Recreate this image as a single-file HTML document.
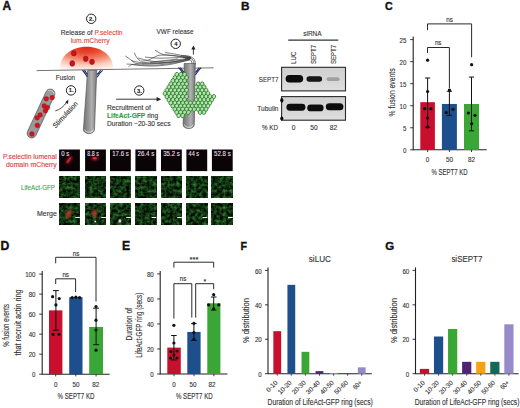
<!DOCTYPE html>
<html><head><meta charset="utf-8"><style>
html,body{margin:0;padding:0;background:#fff;}
svg{display:block;}
text{font-family:"Liberation Sans", sans-serif;}
</style></head><body>
<svg width="520" height="408" viewBox="0 0 520 408">
<text x="2.60" y="9.80" font-size="11.94" font-weight="bold" fill="#111" stroke="#111" stroke-width="0.35">A</text>
<text x="240.90" y="10.00" font-size="11.81" font-weight="bold" fill="#111" stroke="#111" stroke-width="0.35">B</text>
<text x="385.10" y="10.20" font-size="10.69" font-weight="bold" fill="#111" stroke="#111" stroke-width="0.35">C</text>
<text x="0.60" y="250.10" font-size="12.22" font-weight="bold" fill="#111" stroke="#111" stroke-width="0.35">D</text>
<text x="122.10" y="250.10" font-size="12.22" font-weight="bold" fill="#111" stroke="#111" stroke-width="0.35">E</text>
<text x="240.40" y="249.90" font-size="10.56" font-weight="bold" fill="#111" stroke="#111" stroke-width="0.35">F</text>
<text x="385.30" y="249.90" font-size="11.53" font-weight="bold" fill="#111" stroke="#111" stroke-width="0.35">G</text>
<line x1="413.20" y1="150.20" x2="413.20" y2="36.60" stroke="#222" stroke-width="1.1"/>
<line x1="410.20" y1="149.80" x2="413.20" y2="149.80" stroke="#222" stroke-width="0.9"/>
<text x="406.40" y="152.91" font-size="6.6" fill="#333" stroke="#333" stroke-width="0.12" text-anchor="end" textLength="3.43" lengthAdjust="spacingAndGlyphs">0</text>
<line x1="410.20" y1="127.76" x2="413.20" y2="127.76" stroke="#222" stroke-width="0.9"/>
<text x="406.40" y="130.87" font-size="6.6" fill="#333" stroke="#333" stroke-width="0.12" text-anchor="end" textLength="3.43" lengthAdjust="spacingAndGlyphs">5</text>
<line x1="410.20" y1="105.72" x2="413.20" y2="105.72" stroke="#222" stroke-width="0.9"/>
<text x="406.40" y="108.83" font-size="6.6" fill="#333" stroke="#333" stroke-width="0.12" text-anchor="end" textLength="6.86" lengthAdjust="spacingAndGlyphs">10</text>
<line x1="410.20" y1="83.68" x2="413.20" y2="83.68" stroke="#222" stroke-width="0.9"/>
<text x="406.40" y="86.79" font-size="6.6" fill="#333" stroke="#333" stroke-width="0.12" text-anchor="end" textLength="6.86" lengthAdjust="spacingAndGlyphs">15</text>
<line x1="410.20" y1="61.64" x2="413.20" y2="61.64" stroke="#222" stroke-width="0.9"/>
<text x="406.40" y="64.75" font-size="6.6" fill="#333" stroke="#333" stroke-width="0.12" text-anchor="end" textLength="6.86" lengthAdjust="spacingAndGlyphs">20</text>
<line x1="410.20" y1="39.60" x2="413.20" y2="39.60" stroke="#222" stroke-width="0.9"/>
<text x="406.40" y="42.71" font-size="6.6" fill="#333" stroke="#333" stroke-width="0.12" text-anchor="end" textLength="6.86" lengthAdjust="spacingAndGlyphs">25</text>
<line x1="413.20" y1="149.80" x2="486.70" y2="149.80" stroke="#222" stroke-width="1.1"/>
<rect x="420.30" y="102.19" width="14.60" height="47.61" fill="#c8102e"/>
<line x1="427.60" y1="149.80" x2="427.60" y2="152.00" stroke="#222" stroke-width="0.9"/>
<rect x="441.90" y="103.96" width="15.00" height="45.84" fill="#1d4f8c"/>
<line x1="449.40" y1="149.80" x2="449.40" y2="152.00" stroke="#222" stroke-width="0.9"/>
<rect x="464.00" y="103.96" width="15.00" height="45.84" fill="#3aa636"/>
<line x1="471.50" y1="149.80" x2="471.50" y2="152.00" stroke="#222" stroke-width="0.9"/>
<line x1="427.60" y1="78.00" x2="427.60" y2="127.40" stroke="#111" stroke-width="1.0"/>
<line x1="425.00" y1="78.00" x2="430.20" y2="78.00" stroke="#111" stroke-width="1.0"/>
<line x1="425.00" y1="127.40" x2="430.20" y2="127.40" stroke="#111" stroke-width="1.0"/>
<line x1="449.40" y1="91.20" x2="449.40" y2="115.40" stroke="#111" stroke-width="1.0"/>
<line x1="446.80" y1="91.20" x2="452.00" y2="91.20" stroke="#111" stroke-width="1.0"/>
<line x1="446.80" y1="115.40" x2="452.00" y2="115.40" stroke="#111" stroke-width="1.0"/>
<line x1="471.50" y1="77.10" x2="471.50" y2="130.80" stroke="#111" stroke-width="1.0"/>
<line x1="468.90" y1="77.10" x2="474.10" y2="77.10" stroke="#111" stroke-width="1.0"/>
<line x1="468.90" y1="130.80" x2="474.10" y2="130.80" stroke="#111" stroke-width="1.0"/>
<circle cx="427.60" cy="60.20" r="1.6" fill="#111"/>
<circle cx="427.60" cy="91.50" r="1.6" fill="#111"/>
<circle cx="424.70" cy="108.70" r="1.6" fill="#111"/>
<circle cx="430.90" cy="108.70" r="1.6" fill="#111"/>
<circle cx="427.60" cy="118.00" r="1.6" fill="#111"/>
<circle cx="427.60" cy="127.00" r="1.6" fill="#111"/>
<circle cx="446.30" cy="112.60" r="1.6" fill="#111"/>
<circle cx="453.00" cy="109.30" r="1.6" fill="#111"/>
<circle cx="471.60" cy="64.70" r="1.6" fill="#111"/>
<circle cx="468.40" cy="113.00" r="1.6" fill="#111"/>
<circle cx="475.00" cy="115.30" r="1.6" fill="#111"/>
<circle cx="471.70" cy="123.70" r="1.6" fill="#111"/>
<rect x="448.00" y="88.90" width="2.90" height="2.90" fill="#111"/>
<path d="M427.50,30.20 V23.90 H471.60 V57.30" fill="none" stroke="#2a2a2a" stroke-width="1.0"/>
<text x="449.50" y="21.64" font-size="6.4" fill="#333" stroke="#333" stroke-width="0.12" text-anchor="middle" textLength="6.60" lengthAdjust="spacingAndGlyphs">ns</text>
<path d="M427.50,53.00 V47.50 H449.40 V88.60" fill="none" stroke="#2a2a2a" stroke-width="1.0"/>
<text x="438.20" y="45.24" font-size="6.4" fill="#333" stroke="#333" stroke-width="0.12" text-anchor="middle" textLength="6.60" lengthAdjust="spacingAndGlyphs">ns</text>
<text x="427.60" y="162.48" font-size="6.8" fill="#333" stroke="#333" stroke-width="0.12" text-anchor="middle" textLength="3.50" lengthAdjust="spacingAndGlyphs">0</text>
<text x="449.60" y="162.48" font-size="6.8" fill="#333" stroke="#333" stroke-width="0.12" text-anchor="middle" textLength="7.00" lengthAdjust="spacingAndGlyphs">50</text>
<text x="471.50" y="162.48" font-size="6.8" fill="#333" stroke="#333" stroke-width="0.12" text-anchor="middle" textLength="7.00" lengthAdjust="spacingAndGlyphs">82</text>
<text x="449.50" y="174.57" font-size="8.5" fill="#333" stroke="#333" stroke-width="0.12" text-anchor="middle" textLength="36.20" lengthAdjust="spacingAndGlyphs">% SEPT7 KD</text>
<text x="394.70" y="92.40" font-size="8.5" fill="#333" stroke="#333" stroke-width="0.12" text-anchor="middle" textLength="48.00" lengthAdjust="spacingAndGlyphs" transform="rotate(-90 394.70 92.40)">% fusion events</text>
<line x1="42.20" y1="374.60" x2="42.20" y2="271.10" stroke="#222" stroke-width="1.1"/>
<line x1="39.20" y1="374.20" x2="42.20" y2="374.20" stroke="#222" stroke-width="0.9"/>
<text x="35.50" y="377.31" font-size="6.6" fill="#333" stroke="#333" stroke-width="0.12" text-anchor="end" textLength="3.43" lengthAdjust="spacingAndGlyphs">0</text>
<line x1="39.20" y1="354.18" x2="42.20" y2="354.18" stroke="#222" stroke-width="0.9"/>
<text x="35.50" y="357.29" font-size="6.6" fill="#333" stroke="#333" stroke-width="0.12" text-anchor="end" textLength="6.86" lengthAdjust="spacingAndGlyphs">20</text>
<line x1="39.20" y1="334.16" x2="42.20" y2="334.16" stroke="#222" stroke-width="0.9"/>
<text x="35.50" y="337.27" font-size="6.6" fill="#333" stroke="#333" stroke-width="0.12" text-anchor="end" textLength="6.86" lengthAdjust="spacingAndGlyphs">40</text>
<line x1="39.20" y1="314.14" x2="42.20" y2="314.14" stroke="#222" stroke-width="0.9"/>
<text x="35.50" y="317.25" font-size="6.6" fill="#333" stroke="#333" stroke-width="0.12" text-anchor="end" textLength="6.86" lengthAdjust="spacingAndGlyphs">60</text>
<line x1="39.20" y1="294.12" x2="42.20" y2="294.12" stroke="#222" stroke-width="0.9"/>
<text x="35.50" y="297.23" font-size="6.6" fill="#333" stroke="#333" stroke-width="0.12" text-anchor="end" textLength="6.86" lengthAdjust="spacingAndGlyphs">80</text>
<line x1="39.20" y1="274.10" x2="42.20" y2="274.10" stroke="#222" stroke-width="0.9"/>
<text x="35.50" y="277.21" font-size="6.6" fill="#333" stroke="#333" stroke-width="0.12" text-anchor="end" textLength="10.30" lengthAdjust="spacingAndGlyphs">100</text>
<line x1="42.20" y1="374.20" x2="109.60" y2="374.20" stroke="#222" stroke-width="1.1"/>
<rect x="49.00" y="310.34" width="13.40" height="63.86" fill="#c8102e"/>
<line x1="55.70" y1="374.20" x2="55.70" y2="376.40" stroke="#222" stroke-width="0.9"/>
<rect x="69.20" y="297.22" width="13.30" height="76.98" fill="#1d4f8c"/>
<line x1="75.80" y1="374.20" x2="75.80" y2="376.40" stroke="#222" stroke-width="0.9"/>
<rect x="89.20" y="326.95" width="13.80" height="47.25" fill="#3aa636"/>
<line x1="96.10" y1="374.20" x2="96.10" y2="376.40" stroke="#222" stroke-width="0.9"/>
<line x1="55.90" y1="290.60" x2="55.90" y2="330.20" stroke="#111" stroke-width="1.0"/>
<line x1="52.90" y1="290.60" x2="58.90" y2="290.60" stroke="#111" stroke-width="1.0"/>
<line x1="52.90" y1="330.20" x2="58.90" y2="330.20" stroke="#111" stroke-width="1.0"/>
<line x1="96.10" y1="308.20" x2="96.10" y2="344.70" stroke="#111" stroke-width="1.0"/>
<line x1="93.10" y1="308.20" x2="99.10" y2="308.20" stroke="#111" stroke-width="1.0"/>
<line x1="93.10" y1="344.70" x2="99.10" y2="344.70" stroke="#111" stroke-width="1.0"/>
<circle cx="52.60" cy="296.70" r="1.6" fill="#111"/>
<circle cx="59.20" cy="298.60" r="1.6" fill="#111"/>
<circle cx="55.90" cy="304.90" r="1.6" fill="#111"/>
<circle cx="53.10" cy="334.30" r="1.6" fill="#111"/>
<circle cx="59.00" cy="334.30" r="1.6" fill="#111"/>
<circle cx="72.20" cy="297.60" r="1.6" fill="#111"/>
<circle cx="75.90" cy="297.20" r="1.6" fill="#111"/>
<circle cx="79.60" cy="297.60" r="1.6" fill="#111"/>
<circle cx="96.00" cy="306.50" r="1.6" fill="#111"/>
<circle cx="96.00" cy="320.20" r="1.6" fill="#111"/>
<circle cx="96.00" cy="330.00" r="1.6" fill="#111"/>
<circle cx="96.00" cy="350.20" r="1.6" fill="#111"/>
<path d="M55.70,263.30 V257.30 H96.00 V301.60" fill="none" stroke="#2a2a2a" stroke-width="1.0"/>
<text x="76.10" y="256.44" font-size="6.4" fill="#333" stroke="#333" stroke-width="0.12" text-anchor="middle" textLength="6.60" lengthAdjust="spacingAndGlyphs">ns</text>
<path d="M55.70,284.00 V278.80 H75.60 V292.00" fill="none" stroke="#2a2a2a" stroke-width="1.0"/>
<text x="65.70" y="277.24" font-size="6.4" fill="#333" stroke="#333" stroke-width="0.12" text-anchor="middle" textLength="6.60" lengthAdjust="spacingAndGlyphs">ns</text>
<text x="55.70" y="387.08" font-size="6.8" fill="#333" stroke="#333" stroke-width="0.12" text-anchor="middle" textLength="3.50" lengthAdjust="spacingAndGlyphs">0</text>
<text x="76.00" y="387.08" font-size="6.8" fill="#333" stroke="#333" stroke-width="0.12" text-anchor="middle" textLength="7.00" lengthAdjust="spacingAndGlyphs">50</text>
<text x="95.80" y="387.08" font-size="6.8" fill="#333" stroke="#333" stroke-width="0.12" text-anchor="middle" textLength="7.00" lengthAdjust="spacingAndGlyphs">82</text>
<text x="76.00" y="398.58" font-size="8.5" fill="#333" stroke="#333" stroke-width="0.12" text-anchor="middle" textLength="37.00" lengthAdjust="spacingAndGlyphs">% SEPT7 KD</text>
<text x="8.80" y="325.40" font-size="8.5" fill="#333" stroke="#333" stroke-width="0.12" text-anchor="middle" textLength="42.80" lengthAdjust="spacingAndGlyphs" transform="rotate(-90 8.80 325.40)">% fusion events</text>
<text x="21.00" y="322.50" font-size="8.5" fill="#333" stroke="#333" stroke-width="0.12" text-anchor="middle" textLength="66.20" lengthAdjust="spacingAndGlyphs" transform="rotate(-90 21.00 322.50)">that recruit actin ring</text>
<line x1="160.20" y1="374.40" x2="160.20" y2="270.90" stroke="#222" stroke-width="1.1"/>
<line x1="157.20" y1="374.00" x2="160.20" y2="374.00" stroke="#222" stroke-width="0.9"/>
<text x="153.80" y="377.11" font-size="6.6" fill="#333" stroke="#333" stroke-width="0.12" text-anchor="end" textLength="3.43" lengthAdjust="spacingAndGlyphs">0</text>
<line x1="157.20" y1="348.98" x2="160.20" y2="348.98" stroke="#222" stroke-width="0.9"/>
<text x="153.80" y="352.09" font-size="6.6" fill="#333" stroke="#333" stroke-width="0.12" text-anchor="end" textLength="6.86" lengthAdjust="spacingAndGlyphs">20</text>
<line x1="157.20" y1="323.95" x2="160.20" y2="323.95" stroke="#222" stroke-width="0.9"/>
<text x="153.80" y="327.06" font-size="6.6" fill="#333" stroke="#333" stroke-width="0.12" text-anchor="end" textLength="6.86" lengthAdjust="spacingAndGlyphs">40</text>
<line x1="157.20" y1="298.92" x2="160.20" y2="298.92" stroke="#222" stroke-width="0.9"/>
<text x="153.80" y="302.03" font-size="6.6" fill="#333" stroke="#333" stroke-width="0.12" text-anchor="end" textLength="6.86" lengthAdjust="spacingAndGlyphs">60</text>
<line x1="157.20" y1="273.90" x2="160.20" y2="273.90" stroke="#222" stroke-width="0.9"/>
<text x="153.80" y="277.01" font-size="6.6" fill="#333" stroke="#333" stroke-width="0.12" text-anchor="end" textLength="6.86" lengthAdjust="spacingAndGlyphs">80</text>
<line x1="160.20" y1="374.00" x2="227.50" y2="374.00" stroke="#222" stroke-width="1.1"/>
<rect x="167.30" y="347.60" width="13.50" height="26.40" fill="#c8102e"/>
<line x1="174.00" y1="374.00" x2="174.00" y2="376.20" stroke="#222" stroke-width="0.9"/>
<rect x="187.30" y="331.96" width="13.30" height="42.04" fill="#1d4f8c"/>
<line x1="194.00" y1="374.00" x2="194.00" y2="376.20" stroke="#222" stroke-width="0.9"/>
<rect x="207.30" y="303.30" width="13.10" height="70.70" fill="#3aa636"/>
<line x1="213.90" y1="374.00" x2="213.90" y2="376.20" stroke="#222" stroke-width="0.9"/>
<line x1="173.90" y1="335.50" x2="173.90" y2="360.00" stroke="#111" stroke-width="1.0"/>
<line x1="171.10" y1="335.50" x2="176.70" y2="335.50" stroke="#111" stroke-width="1.0"/>
<line x1="171.10" y1="360.00" x2="176.70" y2="360.00" stroke="#111" stroke-width="1.0"/>
<line x1="193.90" y1="323.60" x2="193.90" y2="340.50" stroke="#111" stroke-width="1.0"/>
<line x1="191.10" y1="323.60" x2="196.70" y2="323.60" stroke="#111" stroke-width="1.0"/>
<line x1="191.10" y1="340.50" x2="196.70" y2="340.50" stroke="#111" stroke-width="1.0"/>
<line x1="213.70" y1="297.00" x2="213.70" y2="310.00" stroke="#111" stroke-width="1.0"/>
<line x1="210.90" y1="297.00" x2="216.50" y2="297.00" stroke="#111" stroke-width="1.0"/>
<line x1="210.90" y1="310.00" x2="216.50" y2="310.00" stroke="#111" stroke-width="1.0"/>
<circle cx="173.90" cy="325.30" r="1.6" fill="#111"/>
<circle cx="173.90" cy="343.00" r="1.6" fill="#111"/>
<circle cx="171.00" cy="351.50" r="1.6" fill="#111"/>
<circle cx="177.00" cy="351.00" r="1.6" fill="#111"/>
<circle cx="173.90" cy="355.00" r="1.6" fill="#111"/>
<circle cx="170.50" cy="358.00" r="1.6" fill="#111"/>
<circle cx="177.00" cy="358.00" r="1.6" fill="#111"/>
<circle cx="193.90" cy="323.30" r="1.6" fill="#111"/>
<circle cx="193.90" cy="332.50" r="1.6" fill="#111"/>
<circle cx="193.90" cy="339.40" r="1.6" fill="#111"/>
<circle cx="213.70" cy="294.70" r="1.6" fill="#111"/>
<circle cx="208.60" cy="304.90" r="1.6" fill="#111"/>
<circle cx="218.80" cy="304.90" r="1.6" fill="#111"/>
<circle cx="213.70" cy="308.80" r="1.6" fill="#111"/>
<path d="M173.90,267.60 V262.20 H213.70 V267.60" fill="none" stroke="#2a2a2a" stroke-width="1.0"/>
<text x="194.10" y="261.85" font-size="7.0" fill="#333" stroke="#333" stroke-width="0.12" text-anchor="middle" textLength="9.00" lengthAdjust="spacingAndGlyphs">***</text>
<path d="M173.90,318.60 V283.70 H191.80 V317.60" fill="none" stroke="#2a2a2a" stroke-width="1.0"/>
<text x="183.00" y="281.24" font-size="6.4" fill="#333" stroke="#333" stroke-width="0.12" text-anchor="middle" textLength="6.60" lengthAdjust="spacingAndGlyphs">ns</text>
<path d="M195.70,317.60 V283.70 H213.70 V289.20" fill="none" stroke="#2a2a2a" stroke-width="1.0"/>
<text x="204.90" y="283.65" font-size="7.0" fill="#333" stroke="#333" stroke-width="0.12" text-anchor="middle">*</text>
<text x="174.00" y="387.08" font-size="6.8" fill="#333" stroke="#333" stroke-width="0.12" text-anchor="middle" textLength="3.50" lengthAdjust="spacingAndGlyphs">0</text>
<text x="193.00" y="387.08" font-size="6.8" fill="#333" stroke="#333" stroke-width="0.12" text-anchor="middle" textLength="7.00" lengthAdjust="spacingAndGlyphs">50</text>
<text x="211.90" y="387.08" font-size="6.8" fill="#333" stroke="#333" stroke-width="0.12" text-anchor="middle" textLength="7.00" lengthAdjust="spacingAndGlyphs">82</text>
<text x="194.30" y="398.68" font-size="8.5" fill="#333" stroke="#333" stroke-width="0.12" text-anchor="middle" textLength="36.70" lengthAdjust="spacingAndGlyphs">% SEPT7 KD</text>
<text x="132.50" y="324.30" font-size="8.5" fill="#333" stroke="#333" stroke-width="0.12" text-anchor="middle" textLength="32.60" lengthAdjust="spacingAndGlyphs" transform="rotate(-90 132.50 324.30)">Duration of</text>
<text x="142.50" y="325.20" font-size="8.5" fill="#333" stroke="#333" stroke-width="0.12" text-anchor="middle" textLength="65.10" lengthAdjust="spacingAndGlyphs" transform="rotate(-90 142.50 325.20)">LifeAct-GFP ring (secs)</text>
<line x1="268.00" y1="374.10" x2="268.00" y2="267.40" stroke="#222" stroke-width="1.1"/>
<line x1="265.00" y1="373.70" x2="268.00" y2="373.70" stroke="#222" stroke-width="0.9"/>
<text x="261.80" y="376.81" font-size="6.6" fill="#333" stroke="#333" stroke-width="0.12" text-anchor="end" textLength="3.43" lengthAdjust="spacingAndGlyphs">0</text>
<line x1="265.00" y1="339.27" x2="268.00" y2="339.27" stroke="#222" stroke-width="0.9"/>
<text x="261.80" y="342.38" font-size="6.6" fill="#333" stroke="#333" stroke-width="0.12" text-anchor="end" textLength="6.86" lengthAdjust="spacingAndGlyphs">20</text>
<line x1="265.00" y1="304.83" x2="268.00" y2="304.83" stroke="#222" stroke-width="0.9"/>
<text x="261.80" y="307.94" font-size="6.6" fill="#333" stroke="#333" stroke-width="0.12" text-anchor="end" textLength="6.86" lengthAdjust="spacingAndGlyphs">40</text>
<line x1="265.00" y1="270.40" x2="268.00" y2="270.40" stroke="#222" stroke-width="0.9"/>
<text x="261.80" y="273.51" font-size="6.6" fill="#333" stroke="#333" stroke-width="0.12" text-anchor="end" textLength="6.86" lengthAdjust="spacingAndGlyphs">60</text>
<line x1="268.00" y1="373.70" x2="371.80" y2="373.70" stroke="#222" stroke-width="1.1"/>
<rect x="273.35" y="331.17" width="7.80" height="42.53" fill="#c8102e"/>
<line x1="277.25" y1="373.70" x2="277.25" y2="375.70" stroke="#222" stroke-width="0.8"/>
<text x="278.05" y="383.10" font-size="6.6" fill="#333" stroke="#333" stroke-width="0.12" text-anchor="end" textLength="13.20" lengthAdjust="spacingAndGlyphs" transform="rotate(-45 278.05 383.10)">0-10</text>
<rect x="287.43" y="284.86" width="7.80" height="88.84" fill="#1d4f8c"/>
<line x1="291.33" y1="373.70" x2="291.33" y2="375.70" stroke="#222" stroke-width="0.8"/>
<text x="292.13" y="383.10" font-size="6.6" fill="#333" stroke="#333" stroke-width="0.12" text-anchor="end" textLength="16.50" lengthAdjust="spacingAndGlyphs" transform="rotate(-45 292.13 383.10)">10-20</text>
<rect x="301.51" y="351.83" width="7.80" height="21.87" fill="#3aa636"/>
<line x1="305.41" y1="373.70" x2="305.41" y2="375.70" stroke="#222" stroke-width="0.8"/>
<text x="306.21" y="383.10" font-size="6.6" fill="#333" stroke="#333" stroke-width="0.12" text-anchor="end" textLength="16.50" lengthAdjust="spacingAndGlyphs" transform="rotate(-45 306.21 383.10)">20-30</text>
<rect x="315.59" y="371.12" width="7.80" height="2.58" fill="#4f2277"/>
<line x1="319.49" y1="373.70" x2="319.49" y2="375.70" stroke="#222" stroke-width="0.8"/>
<text x="320.29" y="383.10" font-size="6.6" fill="#333" stroke="#333" stroke-width="0.12" text-anchor="end" textLength="16.50" lengthAdjust="spacingAndGlyphs" transform="rotate(-45 320.29 383.10)">30-40</text>
<rect x="329.67" y="373.01" width="7.80" height="0.69" fill="#f8a20c"/>
<line x1="333.57" y1="373.70" x2="333.57" y2="375.70" stroke="#222" stroke-width="0.8"/>
<text x="334.37" y="383.10" font-size="6.6" fill="#333" stroke="#333" stroke-width="0.12" text-anchor="end" textLength="16.50" lengthAdjust="spacingAndGlyphs" transform="rotate(-45 334.37 383.10)">40-50</text>
<rect x="343.75" y="373.01" width="7.80" height="0.69" fill="#0f6a58"/>
<line x1="347.65" y1="373.70" x2="347.65" y2="375.70" stroke="#222" stroke-width="0.8"/>
<text x="348.45" y="383.10" font-size="6.6" fill="#333" stroke="#333" stroke-width="0.12" text-anchor="end" textLength="16.50" lengthAdjust="spacingAndGlyphs" transform="rotate(-45 348.45 383.10)">50-60</text>
<rect x="357.83" y="367.33" width="7.80" height="6.37" fill="#968acb"/>
<line x1="361.73" y1="373.70" x2="361.73" y2="375.70" stroke="#222" stroke-width="0.8"/>
<text x="362.53" y="383.10" font-size="6.6" fill="#333" stroke="#333" stroke-width="0.12" text-anchor="end" textLength="9.90" lengthAdjust="spacingAndGlyphs" transform="rotate(-45 362.53 383.10)">60+</text>
<text x="319.90" y="262.27" font-size="8.2" fill="#333" stroke="#333" stroke-width="0.12" text-anchor="middle" textLength="22.20" lengthAdjust="spacingAndGlyphs">siLUC</text>
<text x="320.15" y="405.10" font-size="8.3" fill="#333" stroke="#333" stroke-width="0.12" text-anchor="middle" textLength="105.30" lengthAdjust="spacingAndGlyphs">Duration of LifeAct-GFP ring (secs)</text>
<text x="248.70" y="320.60" font-size="8.5" fill="#333" stroke="#333" stroke-width="0.12" text-anchor="middle" textLength="44.80" lengthAdjust="spacingAndGlyphs" transform="rotate(-90 248.70 320.60)">% distribution</text>
<line x1="415.50" y1="374.10" x2="415.50" y2="267.40" stroke="#222" stroke-width="1.1"/>
<line x1="412.50" y1="373.70" x2="415.50" y2="373.70" stroke="#222" stroke-width="0.9"/>
<text x="409.30" y="376.81" font-size="6.6" fill="#333" stroke="#333" stroke-width="0.12" text-anchor="end" textLength="3.43" lengthAdjust="spacingAndGlyphs">0</text>
<line x1="412.50" y1="339.27" x2="415.50" y2="339.27" stroke="#222" stroke-width="0.9"/>
<text x="409.30" y="342.38" font-size="6.6" fill="#333" stroke="#333" stroke-width="0.12" text-anchor="end" textLength="6.86" lengthAdjust="spacingAndGlyphs">20</text>
<line x1="412.50" y1="304.83" x2="415.50" y2="304.83" stroke="#222" stroke-width="0.9"/>
<text x="409.30" y="307.94" font-size="6.6" fill="#333" stroke="#333" stroke-width="0.12" text-anchor="end" textLength="6.86" lengthAdjust="spacingAndGlyphs">40</text>
<line x1="412.50" y1="270.40" x2="415.50" y2="270.40" stroke="#222" stroke-width="0.9"/>
<text x="409.30" y="273.51" font-size="6.6" fill="#333" stroke="#333" stroke-width="0.12" text-anchor="end" textLength="6.86" lengthAdjust="spacingAndGlyphs">60</text>
<line x1="415.50" y1="373.70" x2="518.60" y2="373.70" stroke="#222" stroke-width="1.1"/>
<rect x="419.90" y="368.88" width="9.20" height="4.82" fill="#c8102e"/>
<line x1="424.50" y1="373.70" x2="424.50" y2="375.70" stroke="#222" stroke-width="0.8"/>
<text x="425.30" y="383.10" font-size="6.6" fill="#333" stroke="#333" stroke-width="0.12" text-anchor="end" textLength="13.20" lengthAdjust="spacingAndGlyphs" transform="rotate(-45 425.30 383.10)">0-10</text>
<rect x="433.97" y="336.51" width="9.20" height="37.19" fill="#1d4f8c"/>
<line x1="438.57" y1="373.70" x2="438.57" y2="375.70" stroke="#222" stroke-width="0.8"/>
<text x="439.37" y="383.10" font-size="6.6" fill="#333" stroke="#333" stroke-width="0.12" text-anchor="end" textLength="16.50" lengthAdjust="spacingAndGlyphs" transform="rotate(-45 439.37 383.10)">10-20</text>
<rect x="448.04" y="328.94" width="9.20" height="44.76" fill="#3aa636"/>
<line x1="452.64" y1="373.70" x2="452.64" y2="375.70" stroke="#222" stroke-width="0.8"/>
<text x="453.44" y="383.10" font-size="6.6" fill="#333" stroke="#333" stroke-width="0.12" text-anchor="end" textLength="16.50" lengthAdjust="spacingAndGlyphs" transform="rotate(-45 453.44 383.10)">20-30</text>
<rect x="462.11" y="361.82" width="9.20" height="11.88" fill="#4f2277"/>
<line x1="466.71" y1="373.70" x2="466.71" y2="375.70" stroke="#222" stroke-width="0.8"/>
<text x="467.51" y="383.10" font-size="6.6" fill="#333" stroke="#333" stroke-width="0.12" text-anchor="end" textLength="16.50" lengthAdjust="spacingAndGlyphs" transform="rotate(-45 467.51 383.10)">30-40</text>
<rect x="476.18" y="361.82" width="9.20" height="11.88" fill="#f8a20c"/>
<line x1="480.78" y1="373.70" x2="480.78" y2="375.70" stroke="#222" stroke-width="0.8"/>
<text x="481.58" y="383.10" font-size="6.6" fill="#333" stroke="#333" stroke-width="0.12" text-anchor="end" textLength="16.50" lengthAdjust="spacingAndGlyphs" transform="rotate(-45 481.58 383.10)">40-50</text>
<rect x="490.25" y="361.82" width="9.20" height="11.88" fill="#0f6a58"/>
<line x1="494.85" y1="373.70" x2="494.85" y2="375.70" stroke="#222" stroke-width="0.8"/>
<text x="495.65" y="383.10" font-size="6.6" fill="#333" stroke="#333" stroke-width="0.12" text-anchor="end" textLength="16.50" lengthAdjust="spacingAndGlyphs" transform="rotate(-45 495.65 383.10)">50-60</text>
<rect x="504.32" y="324.29" width="9.20" height="49.41" fill="#968acb"/>
<line x1="508.92" y1="373.70" x2="508.92" y2="375.70" stroke="#222" stroke-width="0.8"/>
<text x="509.72" y="383.10" font-size="6.6" fill="#333" stroke="#333" stroke-width="0.12" text-anchor="end" textLength="9.90" lengthAdjust="spacingAndGlyphs" transform="rotate(-45 509.72 383.10)">60+</text>
<text x="466.90" y="262.27" font-size="8.2" fill="#333" stroke="#333" stroke-width="0.12" text-anchor="middle" textLength="31.00" lengthAdjust="spacingAndGlyphs">siSEPT7</text>
<text x="467.05" y="405.10" font-size="8.3" fill="#333" stroke="#333" stroke-width="0.12" text-anchor="middle" textLength="104.70" lengthAdjust="spacingAndGlyphs">Duration of LifeAct-GFP ring (secs)</text>
<text x="396.70" y="320.60" font-size="8.5" fill="#333" stroke="#333" stroke-width="0.12" text-anchor="middle" textLength="44.80" lengthAdjust="spacingAndGlyphs" transform="rotate(-90 396.70 320.60)">% distribution</text>
<defs>
<radialGradient id="dome" cx="0.5" cy="0.02" r="1.0" fx="0.5" fy="0.02">
<stop offset="0" stop-color="#e3261c"/><stop offset="0.25" stop-color="#e9482f"/><stop offset="0.5" stop-color="#f2846a"/><stop offset="0.75" stop-color="#fbcdbd"/><stop offset="1" stop-color="#fff6f3"/></radialGradient>
<linearGradient id="tubeG" x1="0" y1="0" x2="1" y2="0">
<stop offset="0" stop-color="#727272"/><stop offset="0.45" stop-color="#9c9c9c"/><stop offset="0.62" stop-color="#b2b2b2"/><stop offset="1" stop-color="#747474"/></linearGradient>
<filter id="gnoise" x="0" y="0" width="1" height="1" color-interpolation-filters="sRGB">
<feTurbulence type="fractalNoise" baseFrequency="0.3" numOctaves="3" seed="3" result="n"/>
<feColorMatrix in="n" type="matrix" values="0 0.3 0 0 -0.08  0 0.8 0 0 -0.2  0 0.3 0 0 -0.08  0 0 0 0 1"/>
</filter>
<filter id="blur1"><feGaussianBlur stdDeviation="1.1"/></filter>
<filter id="blur05"><feGaussianBlur stdDeviation="0.5"/></filter>
</defs>
<path d="M59.5,70.6 C59.5,56 71,46.8 86.5,46.8 C102,46.8 113.5,56 113.5,70 Z" fill="url(#dome)"/>
<ellipse cx="73.8" cy="53.2" rx="2.5" ry="2.8" fill="#c8141c" stroke="#8a0d10" stroke-width="0.4"/>
<ellipse cx="72.3" cy="63.4" rx="2.5" ry="2.8" fill="#c8141c" stroke="#8a0d10" stroke-width="0.4"/>
<ellipse cx="85.7" cy="58.8" rx="2.5" ry="2.8" fill="#c8141c" stroke="#8a0d10" stroke-width="0.4"/>
<ellipse cx="92.0" cy="61.8" rx="2.5" ry="2.8" fill="#c8141c" stroke="#8a0d10" stroke-width="0.4"/>
<g fill="none" stroke="#3a3a3a" stroke-width="0.65"><path d="M125.5,56 C129,58 132,61 135,63.3 C145,64.5 160,63.5 175,61.5 C182,60.5 187,59.5 191,58.5"/><path d="M134.3,52.5 C135.5,56 137.5,59.5 140.5,61 C144,61.5 147,60.5 149,59.8 C153,58 156,56 159,55.2 C168,54.5 180,56 191,58"/><path d="M155,50.2 C158,52 160,53.5 163,54.5 C172,56 182,56.5 191,57.5"/><path d="M126.6,64 C135,64.5 145,65.5 158,65 C170,64 180,62 190,59.5"/><path d="M128.5,66.8 C130,65.5 131,65 132,64.5 C142,66 155,67 170,64.5 C178,63 185,61 190,59.8"/><path d="M138,58 C145,60 152,62 160,61.5 C170,61 180,59.5 190,58.2"/><path d="M145,57 C152,58 160,58.5 168,58 C176,57.5 184,57.5 191,57.8"/><path d="M150,62.5 C160,63 170,62.5 180,60.5 C185,59.5 188,58.8 191,58.6"/><path d="M165,52.5 C172,53.5 180,55 190,57"/><path d="M142,63.8 C152,64 164,63.8 176,61.8 C182,61 186,60 190,59.2"/><path d="M131,60.5 C136,62 140,63 146,62.5 C156,61.5 166,60.5 178,59"/></g>
<g fill="none" stroke="#333" stroke-width="0.7"><path d="M181,55.8 C186,55.2 191,56 193.5,58.5 C194.8,60 195.3,62 195.4,64.4"/><path d="M183,57.3 C187,56.8 190.5,57.5 192.5,59.5 C193.5,61 193.8,62.5 193.8,64"/><path d="M185,58.6 C188,58.4 190,59.2 191.2,60.8 C191.8,62 192,63 192,64"/></g>
<line x1="36.70" y1="70.60" x2="213.70" y2="67.80" stroke="#666" stroke-width="0.9"/>
<path d="M87.6,70.4 L96.8,70.3 L94.5,129.5 C94.4,135 83.4,135 83.4,129.5 Z" fill="url(#tubeG)" stroke="#4a4a4a" stroke-width="0.6"/>
<path d="M84.6,129.5 C85,133 93,133 93.4,129.5" fill="none" stroke="#f0f0f0" stroke-width="0.7"/>
<path d="M184.2,63.5 L195.3,63.5 L194.3,124.5 C194.2,130 183.1,130 183.1,124.5 Z" fill="url(#tubeG)" stroke="#4a4a4a" stroke-width="0.6"/>
<path d="M184.4,124.5 C184.8,128.3 192.6,128.3 193,124.5" fill="none" stroke="#f0f0f0" stroke-width="0.7"/>
<path d="M82.4,70.2 C84.5,72 85.5,74.5 87.3,76.8" fill="none" stroke="#1a2670" stroke-width="1.15"/>
<path d="M84.5,70.2 C85.8,72 86.5,73.5 87.6,74.5" fill="none" stroke="#1a2670" stroke-width="1.15"/>
<path d="M102.7,70.4 C100.5,72 99,74.5 97.0,77.2" fill="none" stroke="#1a2670" stroke-width="1.15"/>
<path d="M100.7,70.4 C99.3,72 98.5,73.5 96.9,74.5" fill="none" stroke="#1a2670" stroke-width="1.15"/>
<path d="M178.5,67.5 C180.8,69.5 182,72 184.1,74.8" fill="none" stroke="#1a2670" stroke-width="1.15"/>
<path d="M180.5,67.5 C181.8,69.5 182.6,71 184.3,72.5" fill="none" stroke="#1a2670" stroke-width="1.15"/>
<path d="M201.2,67.6 C199,69.5 197.5,72 195.4,74.8" fill="none" stroke="#1a2670" stroke-width="1.15"/>
<path d="M199.2,67.6 C197.8,69.5 197,71 195.5,72.5" fill="none" stroke="#1a2670" stroke-width="1.15"/>
<g fill="#b0e8a8" stroke="#357a3a" stroke-width="0.8"><ellipse cx="176.7" cy="74.5" rx="1.85" ry="2.15" transform="rotate(20 176.7 74.5)"/><ellipse cx="180.6" cy="74.5" rx="1.85" ry="2.15" transform="rotate(20 180.6 74.5)"/><ellipse cx="184.5" cy="74.5" rx="1.85" ry="2.15" transform="rotate(20 184.5 74.5)"/><ellipse cx="174.8" cy="77.7" rx="1.85" ry="2.15" transform="rotate(20 174.8 77.7)"/><ellipse cx="178.7" cy="77.7" rx="1.85" ry="2.15" transform="rotate(20 178.7 77.7)"/><ellipse cx="182.6" cy="77.7" rx="1.85" ry="2.15" transform="rotate(20 182.6 77.7)"/><ellipse cx="186.5" cy="77.7" rx="1.85" ry="2.15" transform="rotate(20 186.5 77.7)"/><ellipse cx="172.8" cy="80.8" rx="1.85" ry="2.15" transform="rotate(20 172.8 80.8)"/><ellipse cx="176.7" cy="80.8" rx="1.85" ry="2.15" transform="rotate(20 176.7 80.8)"/><ellipse cx="180.6" cy="80.8" rx="1.85" ry="2.15" transform="rotate(20 180.6 80.8)"/><ellipse cx="184.5" cy="80.8" rx="1.85" ry="2.15" transform="rotate(20 184.5 80.8)"/><ellipse cx="170.8" cy="84.0" rx="1.85" ry="2.15" transform="rotate(20 170.8 84.0)"/><ellipse cx="174.8" cy="84.0" rx="1.85" ry="2.15" transform="rotate(20 174.8 84.0)"/><ellipse cx="178.7" cy="84.0" rx="1.85" ry="2.15" transform="rotate(20 178.7 84.0)"/><ellipse cx="182.6" cy="84.0" rx="1.85" ry="2.15" transform="rotate(20 182.6 84.0)"/><ellipse cx="186.5" cy="84.0" rx="1.85" ry="2.15" transform="rotate(20 186.5 84.0)"/><ellipse cx="198.2" cy="84.0" rx="1.85" ry="2.15" transform="rotate(20 198.2 84.0)"/><ellipse cx="202.1" cy="84.0" rx="1.85" ry="2.15" transform="rotate(20 202.1 84.0)"/><ellipse cx="168.9" cy="87.1" rx="1.85" ry="2.15" transform="rotate(20 168.9 87.1)"/><ellipse cx="172.8" cy="87.1" rx="1.85" ry="2.15" transform="rotate(20 172.8 87.1)"/><ellipse cx="176.7" cy="87.1" rx="1.85" ry="2.15" transform="rotate(20 176.7 87.1)"/><ellipse cx="180.6" cy="87.1" rx="1.85" ry="2.15" transform="rotate(20 180.6 87.1)"/><ellipse cx="184.5" cy="87.1" rx="1.85" ry="2.15" transform="rotate(20 184.5 87.1)"/><ellipse cx="196.2" cy="87.1" rx="1.85" ry="2.15" transform="rotate(20 196.2 87.1)"/><ellipse cx="200.1" cy="87.1" rx="1.85" ry="2.15" transform="rotate(20 200.1 87.1)"/><ellipse cx="204.0" cy="87.1" rx="1.85" ry="2.15" transform="rotate(20 204.0 87.1)"/><ellipse cx="166.9" cy="90.3" rx="1.85" ry="2.15" transform="rotate(20 166.9 90.3)"/><ellipse cx="170.8" cy="90.3" rx="1.85" ry="2.15" transform="rotate(20 170.8 90.3)"/><ellipse cx="174.8" cy="90.3" rx="1.85" ry="2.15" transform="rotate(20 174.8 90.3)"/><ellipse cx="178.7" cy="90.3" rx="1.85" ry="2.15" transform="rotate(20 178.7 90.3)"/><ellipse cx="182.6" cy="90.3" rx="1.85" ry="2.15" transform="rotate(20 182.6 90.3)"/><ellipse cx="186.5" cy="90.3" rx="1.85" ry="2.15" transform="rotate(20 186.5 90.3)"/><ellipse cx="198.2" cy="90.3" rx="1.85" ry="2.15" transform="rotate(20 198.2 90.3)"/><ellipse cx="202.1" cy="90.3" rx="1.85" ry="2.15" transform="rotate(20 202.1 90.3)"/><ellipse cx="206.0" cy="90.3" rx="1.85" ry="2.15" transform="rotate(20 206.0 90.3)"/><ellipse cx="165.0" cy="93.4" rx="1.85" ry="2.15" transform="rotate(20 165.0 93.4)"/><ellipse cx="168.9" cy="93.4" rx="1.85" ry="2.15" transform="rotate(20 168.9 93.4)"/><ellipse cx="172.8" cy="93.4" rx="1.85" ry="2.15" transform="rotate(20 172.8 93.4)"/><ellipse cx="176.7" cy="93.4" rx="1.85" ry="2.15" transform="rotate(20 176.7 93.4)"/><ellipse cx="180.6" cy="93.4" rx="1.85" ry="2.15" transform="rotate(20 180.6 93.4)"/><ellipse cx="184.5" cy="93.4" rx="1.85" ry="2.15" transform="rotate(20 184.5 93.4)"/><ellipse cx="196.2" cy="93.4" rx="1.85" ry="2.15" transform="rotate(20 196.2 93.4)"/><ellipse cx="200.1" cy="93.4" rx="1.85" ry="2.15" transform="rotate(20 200.1 93.4)"/><ellipse cx="204.0" cy="93.4" rx="1.85" ry="2.15" transform="rotate(20 204.0 93.4)"/><ellipse cx="207.9" cy="93.4" rx="1.85" ry="2.15" transform="rotate(20 207.9 93.4)"/><ellipse cx="166.9" cy="96.6" rx="1.85" ry="2.15" transform="rotate(20 166.9 96.6)"/><ellipse cx="170.8" cy="96.6" rx="1.85" ry="2.15" transform="rotate(20 170.8 96.6)"/><ellipse cx="174.8" cy="96.6" rx="1.85" ry="2.15" transform="rotate(20 174.8 96.6)"/><ellipse cx="178.7" cy="96.6" rx="1.85" ry="2.15" transform="rotate(20 178.7 96.6)"/><ellipse cx="182.6" cy="96.6" rx="1.85" ry="2.15" transform="rotate(20 182.6 96.6)"/><ellipse cx="186.5" cy="96.6" rx="1.85" ry="2.15" transform="rotate(20 186.5 96.6)"/><ellipse cx="198.2" cy="96.6" rx="1.85" ry="2.15" transform="rotate(20 198.2 96.6)"/><ellipse cx="202.1" cy="96.6" rx="1.85" ry="2.15" transform="rotate(20 202.1 96.6)"/><ellipse cx="206.0" cy="96.6" rx="1.85" ry="2.15" transform="rotate(20 206.0 96.6)"/><ellipse cx="209.9" cy="96.6" rx="1.85" ry="2.15" transform="rotate(20 209.9 96.6)"/><ellipse cx="213.8" cy="96.6" rx="1.85" ry="2.15" transform="rotate(20 213.8 96.6)"/><ellipse cx="168.9" cy="99.7" rx="1.85" ry="2.15" transform="rotate(20 168.9 99.7)"/><ellipse cx="172.8" cy="99.7" rx="1.85" ry="2.15" transform="rotate(20 172.8 99.7)"/><ellipse cx="176.7" cy="99.7" rx="1.85" ry="2.15" transform="rotate(20 176.7 99.7)"/><ellipse cx="180.6" cy="99.7" rx="1.85" ry="2.15" transform="rotate(20 180.6 99.7)"/><ellipse cx="184.5" cy="99.7" rx="1.85" ry="2.15" transform="rotate(20 184.5 99.7)"/><ellipse cx="196.2" cy="99.7" rx="1.85" ry="2.15" transform="rotate(20 196.2 99.7)"/><ellipse cx="200.1" cy="99.7" rx="1.85" ry="2.15" transform="rotate(20 200.1 99.7)"/><ellipse cx="204.0" cy="99.7" rx="1.85" ry="2.15" transform="rotate(20 204.0 99.7)"/><ellipse cx="207.9" cy="99.7" rx="1.85" ry="2.15" transform="rotate(20 207.9 99.7)"/><ellipse cx="211.8" cy="99.7" rx="1.85" ry="2.15" transform="rotate(20 211.8 99.7)"/><ellipse cx="170.8" cy="102.9" rx="1.85" ry="2.15" transform="rotate(20 170.8 102.9)"/><ellipse cx="174.8" cy="102.9" rx="1.85" ry="2.15" transform="rotate(20 174.8 102.9)"/><ellipse cx="178.7" cy="102.9" rx="1.85" ry="2.15" transform="rotate(20 178.7 102.9)"/><ellipse cx="182.6" cy="102.9" rx="1.85" ry="2.15" transform="rotate(20 182.6 102.9)"/><ellipse cx="186.5" cy="102.9" rx="1.85" ry="2.15" transform="rotate(20 186.5 102.9)"/><ellipse cx="190.4" cy="102.9" rx="1.85" ry="2.15" transform="rotate(20 190.4 102.9)"/><ellipse cx="194.3" cy="102.9" rx="1.85" ry="2.15" transform="rotate(20 194.3 102.9)"/><ellipse cx="198.2" cy="102.9" rx="1.85" ry="2.15" transform="rotate(20 198.2 102.9)"/><ellipse cx="202.1" cy="102.9" rx="1.85" ry="2.15" transform="rotate(20 202.1 102.9)"/><ellipse cx="206.0" cy="102.9" rx="1.85" ry="2.15" transform="rotate(20 206.0 102.9)"/><ellipse cx="209.9" cy="102.9" rx="1.85" ry="2.15" transform="rotate(20 209.9 102.9)"/><ellipse cx="172.8" cy="106.0" rx="1.85" ry="2.15" transform="rotate(20 172.8 106.0)"/><ellipse cx="176.7" cy="106.0" rx="1.85" ry="2.15" transform="rotate(20 176.7 106.0)"/><ellipse cx="180.6" cy="106.0" rx="1.85" ry="2.15" transform="rotate(20 180.6 106.0)"/><ellipse cx="184.5" cy="106.0" rx="1.85" ry="2.15" transform="rotate(20 184.5 106.0)"/><ellipse cx="188.4" cy="106.0" rx="1.85" ry="2.15" transform="rotate(20 188.4 106.0)"/><ellipse cx="192.3" cy="106.0" rx="1.85" ry="2.15" transform="rotate(20 192.3 106.0)"/><ellipse cx="196.2" cy="106.0" rx="1.85" ry="2.15" transform="rotate(20 196.2 106.0)"/><ellipse cx="200.1" cy="106.0" rx="1.85" ry="2.15" transform="rotate(20 200.1 106.0)"/><ellipse cx="204.0" cy="106.0" rx="1.85" ry="2.15" transform="rotate(20 204.0 106.0)"/><ellipse cx="207.9" cy="106.0" rx="1.85" ry="2.15" transform="rotate(20 207.9 106.0)"/><ellipse cx="174.8" cy="109.2" rx="1.85" ry="2.15" transform="rotate(20 174.8 109.2)"/><ellipse cx="178.7" cy="109.2" rx="1.85" ry="2.15" transform="rotate(20 178.7 109.2)"/><ellipse cx="182.6" cy="109.2" rx="1.85" ry="2.15" transform="rotate(20 182.6 109.2)"/><ellipse cx="186.5" cy="109.2" rx="1.85" ry="2.15" transform="rotate(20 186.5 109.2)"/><ellipse cx="190.4" cy="109.2" rx="1.85" ry="2.15" transform="rotate(20 190.4 109.2)"/><ellipse cx="194.3" cy="109.2" rx="1.85" ry="2.15" transform="rotate(20 194.3 109.2)"/><ellipse cx="198.2" cy="109.2" rx="1.85" ry="2.15" transform="rotate(20 198.2 109.2)"/><ellipse cx="202.1" cy="109.2" rx="1.85" ry="2.15" transform="rotate(20 202.1 109.2)"/><ellipse cx="206.0" cy="109.2" rx="1.85" ry="2.15" transform="rotate(20 206.0 109.2)"/><ellipse cx="176.7" cy="112.3" rx="1.85" ry="2.15" transform="rotate(20 176.7 112.3)"/><ellipse cx="180.6" cy="112.3" rx="1.85" ry="2.15" transform="rotate(20 180.6 112.3)"/><ellipse cx="184.5" cy="112.3" rx="1.85" ry="2.15" transform="rotate(20 184.5 112.3)"/><ellipse cx="188.4" cy="112.3" rx="1.85" ry="2.15" transform="rotate(20 188.4 112.3)"/><ellipse cx="200.1" cy="112.3" rx="1.85" ry="2.15" transform="rotate(20 200.1 112.3)"/><ellipse cx="204.0" cy="112.3" rx="1.85" ry="2.15" transform="rotate(20 204.0 112.3)"/><ellipse cx="178.7" cy="115.5" rx="1.85" ry="2.15" transform="rotate(20 178.7 115.5)"/><ellipse cx="182.6" cy="115.5" rx="1.85" ry="2.15" transform="rotate(20 182.6 115.5)"/></g>
<g transform="translate(41,113.5) rotate(25)"><rect x="-4.6" y="-26.5" width="9.2" height="53" rx="4.6" fill="#9a9a9a" stroke="#444" stroke-width="0.6"/><path d="M-3.3,-23 C-3.3,-25.8 3.3,-25.8 3.3,-23" fill="none" stroke="#eee" stroke-width="0.6"/></g>
<circle cx="52.2" cy="97.6" r="2.4" fill="#d3121c" stroke="#8a0d10" stroke-width="0.3"/>
<circle cx="46.3" cy="98.8" r="2.4" fill="#d3121c" stroke="#8a0d10" stroke-width="0.3"/>
<circle cx="47.4" cy="107.6" r="2.4" fill="#d3121c" stroke="#8a0d10" stroke-width="0.3"/>
<circle cx="45.4" cy="110.8" r="2.4" fill="#d3121c" stroke="#8a0d10" stroke-width="0.3"/>
<circle cx="40.2" cy="114.9" r="2.4" fill="#d3121c" stroke="#8a0d10" stroke-width="0.3"/>
<circle cx="37.2" cy="117.8" r="2.4" fill="#d3121c" stroke="#8a0d10" stroke-width="0.3"/>
<circle cx="37.3" cy="125.4" r="2.4" fill="#d3121c" stroke="#8a0d10" stroke-width="0.3"/>
<circle cx="31.9" cy="134.0" r="2.4" fill="#d3121c" stroke="#8a0d10" stroke-width="0.3"/>
<circle cx="44.2" cy="106.0" r="2.4" fill="#d3121c" stroke="#8a0d10" stroke-width="0.3"/>
<circle cx="91.2" cy="18.8" r="4.7" fill="#fff" stroke="#222" stroke-width="1.0"/>
<text x="91.40" y="20.83" font-size="5.8" fill="#222" stroke="#222" stroke-width="0.12" text-anchor="middle" font-weight="bold">2.</text>
<circle cx="71.0" cy="90.4" r="4.7" fill="#fff" stroke="#222" stroke-width="1.0"/>
<text x="71.20" y="92.43" font-size="5.8" fill="#222" stroke="#222" stroke-width="0.12" text-anchor="middle" font-weight="bold">1.</text>
<circle cx="139.2" cy="90.5" r="4.7" fill="#fff" stroke="#222" stroke-width="1.0"/>
<text x="139.40" y="92.53" font-size="5.8" fill="#222" stroke="#222" stroke-width="0.12" text-anchor="middle" font-weight="bold">3.</text>
<circle cx="175.7" cy="43.8" r="4.7" fill="#fff" stroke="#222" stroke-width="1.0"/>
<text x="175.90" y="45.83" font-size="5.8" fill="#222" stroke="#222" stroke-width="0.12" text-anchor="middle" font-weight="bold">4</text>
<text x="60.8" y="34.9" font-size="7.3" fill="#333" stroke="#333" stroke-width="0.12" textLength="61.8" lengthAdjust="spacingAndGlyphs">Release of <tspan fill="#e0483d" stroke="#e0483d">P.selectin</tspan></text>
<text x="90.25" y="43.40" font-size="7.3" fill="#e0483d" stroke="#e0483d" stroke-width="0.12" text-anchor="middle" textLength="38.90" lengthAdjust="spacingAndGlyphs">lum.mCherry</text>
<text x="55.80" y="80.40" font-size="7.3" fill="#333" stroke="#333" stroke-width="0.12" textLength="19.30" lengthAdjust="spacingAndGlyphs">Fusion</text>
<text x="156.60" y="34.00" font-size="7.3" fill="#333" stroke="#333" stroke-width="0.12" textLength="36.90" lengthAdjust="spacingAndGlyphs">VWF release</text>
<text x="106.90" y="110.20" font-size="7.3" fill="#333" stroke="#333" stroke-width="0.12" textLength="43.90" lengthAdjust="spacingAndGlyphs">Recruitment of</text>
<text x="107" y="118.2" font-size="7.3" fill="#333" stroke="#333" stroke-width="0.12" textLength="51.2" lengthAdjust="spacingAndGlyphs"><tspan fill="#2f9e3e" stroke="#2f9e3e" font-weight="bold">LifeAct-GFP</tspan> ring</text>
<text x="107.00" y="126.20" font-size="7.3" fill="#333" stroke="#333" stroke-width="0.12" textLength="63.50" lengthAdjust="spacingAndGlyphs">Duration ~20-30 secs</text>
<text x="55.50" y="128.50" font-size="6.8" fill="#333" stroke="#333" stroke-width="0.12" textLength="33.50" lengthAdjust="spacingAndGlyphs" transform="rotate(-47 55.50 128.50)">Stimulation</text>
<path d="M55.3,110.9 C60,109.5 64,106.5 67,101.8" fill="none" stroke="#222" stroke-width="0.8"/>
<path d="M68.4,99.4 L68.0,104.0 L65.2,102.3 Z" fill="#222"/>
<line x1="116.20" y1="99.20" x2="158.00" y2="99.20" stroke="#222" stroke-width="0.9"/>
<path d="M161.2,99.2 L156.6,97.0 L156.6,101.4 Z" fill="#222"/>
<line x1="193.40" y1="54.60" x2="193.40" y2="48.50" stroke="#222" stroke-width="0.9"/>
<path d="M193.4,45.6 L191.3,49.6 L195.5,49.6 Z" fill="#222"/>
<rect x="59.10" y="149.50" width="20.80" height="21.60" fill="#0b0406"/>
<rect x="59.10" y="176.20" width="20.8" height="21.6" filter="url(#gnoise)"/>
<rect x="59.10" y="203.10" width="20.8" height="21.6" filter="url(#gnoise)"/>
<rect x="85.10" y="149.50" width="20.80" height="21.60" fill="#0b0406"/>
<rect x="85.10" y="176.20" width="20.8" height="21.6" filter="url(#gnoise)"/>
<rect x="85.10" y="203.10" width="20.8" height="21.6" filter="url(#gnoise)"/>
<rect x="110.00" y="149.50" width="20.80" height="21.60" fill="#0b0406"/>
<rect x="110.00" y="176.20" width="20.8" height="21.6" filter="url(#gnoise)"/>
<rect x="110.00" y="203.10" width="20.8" height="21.6" filter="url(#gnoise)"/>
<rect x="135.40" y="149.50" width="20.80" height="21.60" fill="#0b0406"/>
<rect x="135.40" y="176.20" width="20.8" height="21.6" filter="url(#gnoise)"/>
<rect x="135.40" y="203.10" width="20.8" height="21.6" filter="url(#gnoise)"/>
<rect x="161.00" y="149.50" width="20.80" height="21.60" fill="#0b0406"/>
<rect x="161.00" y="176.20" width="20.8" height="21.6" filter="url(#gnoise)"/>
<rect x="161.00" y="203.10" width="20.8" height="21.6" filter="url(#gnoise)"/>
<rect x="186.40" y="149.50" width="20.80" height="21.60" fill="#0b0406"/>
<rect x="186.40" y="176.20" width="20.8" height="21.6" filter="url(#gnoise)"/>
<rect x="186.40" y="203.10" width="20.8" height="21.6" filter="url(#gnoise)"/>
<rect x="211.90" y="149.50" width="20.80" height="21.60" fill="#0b0406"/>
<rect x="211.90" y="176.20" width="20.8" height="21.6" filter="url(#gnoise)"/>
<rect x="211.90" y="203.10" width="20.8" height="21.6" filter="url(#gnoise)"/>
<g filter="url(#blur1)">
<ellipse cx="69" cy="160" rx="2.6" ry="5.0" transform="rotate(35 69 160)" fill="#6a1018"/>
<ellipse cx="94.7" cy="158.3" rx="4.2" ry="2.6" fill="#6a1018"/>
<ellipse cx="68.7" cy="213.9" rx="2.6" ry="4.6" transform="rotate(30 68.7 213.9)" fill="#b04030" opacity="0.9"/>
<ellipse cx="94.3" cy="213.2" rx="2.6" ry="3.8" fill="#b04030" opacity="0.85"/>
</g>
<g filter="url(#blur05)">
<ellipse cx="69" cy="160" rx="0.9" ry="3.4" transform="rotate(35 69 160)" fill="#d0283a"/>
<ellipse cx="94.7" cy="158.3" rx="2.2" ry="1.1" fill="#e8304a"/>
</g>
<text x="61.30" y="155.80" font-size="6.3" fill="#e6dde6" stroke="#e6dde6" stroke-width="0.12" textLength="8.00" lengthAdjust="spacingAndGlyphs">0 s</text>
<text x="87.30" y="155.80" font-size="6.3" fill="#e6dde6" stroke="#e6dde6" stroke-width="0.12" textLength="11.50" lengthAdjust="spacingAndGlyphs">8.8 s</text>
<text x="112.20" y="155.80" font-size="6.3" fill="#e6dde6" stroke="#e6dde6" stroke-width="0.12" textLength="16.60" lengthAdjust="spacingAndGlyphs">17.6 s</text>
<text x="137.60" y="155.80" font-size="6.3" fill="#e6dde6" stroke="#e6dde6" stroke-width="0.12" textLength="16.60" lengthAdjust="spacingAndGlyphs">26.4 s</text>
<text x="163.20" y="155.80" font-size="6.3" fill="#e6dde6" stroke="#e6dde6" stroke-width="0.12" textLength="16.60" lengthAdjust="spacingAndGlyphs">35.2 s</text>
<text x="188.60" y="155.80" font-size="6.3" fill="#e6dde6" stroke="#e6dde6" stroke-width="0.12" textLength="10.50" lengthAdjust="spacingAndGlyphs">44 s</text>
<text x="214.10" y="155.80" font-size="6.3" fill="#e6dde6" stroke="#e6dde6" stroke-width="0.12" textLength="16.60" lengthAdjust="spacingAndGlyphs">52.8 s</text>
<line x1="75.30" y1="217.50" x2="79.90" y2="217.50" stroke="#f4f4f4" stroke-width="1.0"/>
<line x1="101.30" y1="217.50" x2="105.90" y2="217.50" stroke="#f4f4f4" stroke-width="1.0"/>
<line x1="126.20" y1="217.50" x2="130.80" y2="217.50" stroke="#f4f4f4" stroke-width="1.0"/>
<line x1="151.60" y1="217.50" x2="156.20" y2="217.50" stroke="#f4f4f4" stroke-width="1.0"/>
<line x1="177.20" y1="217.50" x2="181.80" y2="217.50" stroke="#f4f4f4" stroke-width="1.0"/>
<line x1="202.60" y1="217.50" x2="207.20" y2="217.50" stroke="#f4f4f4" stroke-width="1.0"/>
<line x1="228.10" y1="217.50" x2="232.70" y2="217.50" stroke="#f4f4f4" stroke-width="1.0"/>
<circle cx="95.30" cy="221.60" r="0.9" fill="#f4f4f4"/>
<text x="118.60" y="223.20" font-size="4.5" fill="#e8e8e8" stroke="#e8e8e8" stroke-width="0.12">#</text>
<text x="56.80" y="159.40" font-size="7.0" fill="#d9403c" stroke="#d9403c" stroke-width="0.12" text-anchor="end" textLength="53.70" lengthAdjust="spacingAndGlyphs">P.selectin lumenal</text>
<text x="56.80" y="166.80" font-size="7.0" fill="#d9403c" stroke="#d9403c" stroke-width="0.12" text-anchor="end" textLength="50.80" lengthAdjust="spacingAndGlyphs">domain mCherry</text>
<text x="55.00" y="189.60" font-size="7.0" fill="#3ea456" stroke="#3ea456" stroke-width="0.12" text-anchor="end" textLength="34.00" lengthAdjust="spacingAndGlyphs">LifeAct-GFP</text>
<text x="56.80" y="216.40" font-size="7.0" fill="#333" stroke="#333" stroke-width="0.12" text-anchor="end" textLength="19.80" lengthAdjust="spacingAndGlyphs">Merge</text>
<text x="312.45" y="35.90" font-size="7.0" fill="#333" stroke="#333" stroke-width="0.12" text-anchor="middle" textLength="18.50" lengthAdjust="spacingAndGlyphs">siRNA</text>
<line x1="288.20" y1="40.20" x2="338.30" y2="40.20" stroke="#333" stroke-width="1.3"/>
<text x="296.10" y="64.00" font-size="6.8" fill="#333" stroke="#333" stroke-width="0.12" textLength="12.40" lengthAdjust="spacingAndGlyphs" transform="rotate(-90 296.10 64.00)">LUC</text>
<text x="315.90" y="64.00" font-size="6.8" fill="#333" stroke="#333" stroke-width="0.12" textLength="19.20" lengthAdjust="spacingAndGlyphs" transform="rotate(-90 315.90 64.00)">SEPT7</text>
<text x="335.60" y="64.00" font-size="6.8" fill="#333" stroke="#333" stroke-width="0.12" textLength="19.20" lengthAdjust="spacingAndGlyphs" transform="rotate(-90 335.60 64.00)">SEPT7</text>
<defs><linearGradient id="blot" x1="0" y1="0" x2="0" y2="1"><stop offset="0" stop-color="#cfcfcf"/><stop offset="1" stop-color="#dedede"/></linearGradient><filter id="bb"><feGaussianBlur stdDeviation="0.7"/></filter></defs>
<rect x="281.6" y="67.3" width="63.9" height="23.6" fill="url(#blot)" stroke="#2a2a2a" stroke-width="1.1"/>
<rect x="281.6" y="96.6" width="63.9" height="23.6" fill="url(#blot)" stroke="#2a2a2a" stroke-width="1.1"/>
<g filter="url(#bb)">
<rect x="285.6" y="75.0" width="17.6" height="7.6" rx="3.8" fill="#0a0a0a"/>
<rect x="306.5" y="76.3" width="15.6" height="5.5" rx="2.7" fill="#141414"/>
<rect x="326.5" y="77.3" width="13.2" height="3.7" rx="1.8" fill="#a0a0a0"/>
<rect x="286.4" y="103.8" width="19.0" height="6.9" rx="3.4" fill="#0e0e0e"/>
<rect x="307.2" y="104.5" width="16.4" height="6.8" rx="3.4" fill="#101010"/>
<rect x="325.8" y="103.3" width="17.6" height="7.0" rx="3.5" fill="#0e0e0e"/>
<ellipse cx="281.8" cy="100.3" rx="1.6" ry="2.4" fill="#111"/>
<ellipse cx="281.8" cy="118.6" rx="1.6" ry="2.0" fill="#111"/>
</g>
<text x="278.50" y="81.90" font-size="7.6" fill="#333" stroke="#333" stroke-width="0.12" text-anchor="end" textLength="19.70" lengthAdjust="spacingAndGlyphs">SEPT7</text>
<text x="278.50" y="110.80" font-size="7.6" fill="#333" stroke="#333" stroke-width="0.12" text-anchor="end" textLength="21.20" lengthAdjust="spacingAndGlyphs">Tubulin</text>
<text x="278.00" y="129.50" font-size="7.6" fill="#333" stroke="#333" stroke-width="0.12" text-anchor="end" textLength="16.00" lengthAdjust="spacingAndGlyphs">% KD</text>
<text x="293.50" y="129.59" font-size="7.4" fill="#333" stroke="#333" stroke-width="0.12" text-anchor="middle" textLength="3.70" lengthAdjust="spacingAndGlyphs">0</text>
<text x="314.00" y="129.59" font-size="7.4" fill="#333" stroke="#333" stroke-width="0.12" text-anchor="middle" textLength="7.40" lengthAdjust="spacingAndGlyphs">50</text>
<text x="333.50" y="129.59" font-size="7.4" fill="#333" stroke="#333" stroke-width="0.12" text-anchor="middle" textLength="7.40" lengthAdjust="spacingAndGlyphs">82</text>
</svg>
</body></html>
